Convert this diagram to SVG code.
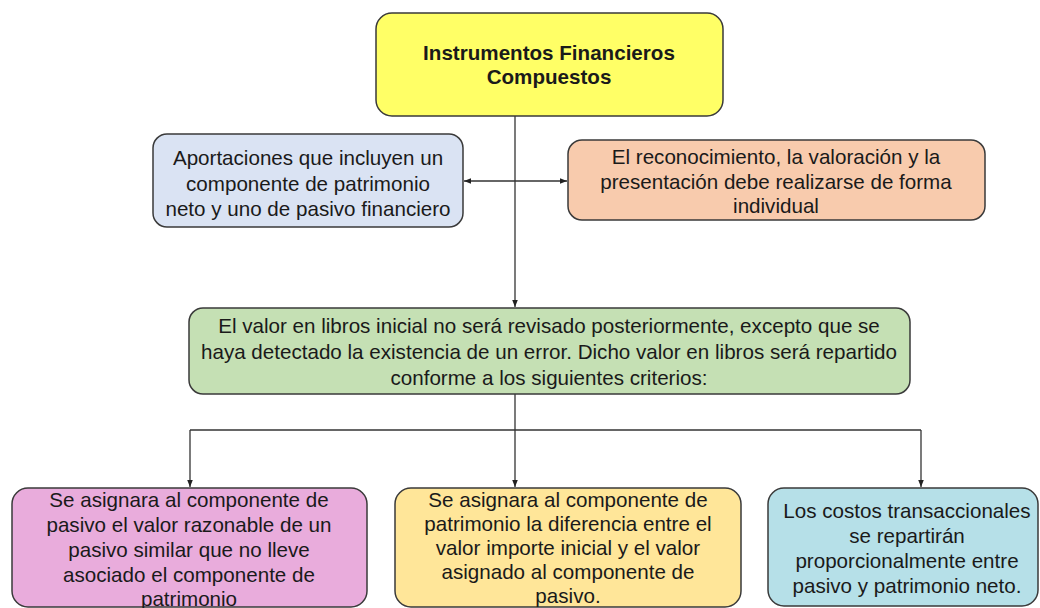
<svg xmlns="http://www.w3.org/2000/svg" width="1040" height="608" viewBox="0 0 1040 608">
<defs>
<marker id="ah" viewBox="0 0 10 10" refX="10" refY="5" markerWidth="7" markerHeight="7" orient="auto-start-reverse" markerUnits="userSpaceOnUse">
<path d="M0,1 L10,5 L0,9 z" fill="#222"/>
</marker>
<style>
.box{stroke:#3a3a3a;stroke-width:1.5}
.t{font-family:"Liberation Sans",Arial,sans-serif;font-size:20.6px;fill:#1a1a1a;text-anchor:middle}
.b{font-weight:bold}
.c{fill:none;stroke:#333;stroke-width:1.3}
</style>
</defs>
<rect width="1040" height="608" fill="#ffffff"/>
<g id="connectors">
<path class="c" d="M515,116 V307" marker-end="url(#ah)"/>
<path class="c" d="M464,181 H567" marker-start="url(#ah)" marker-end="url(#ah)"/>
<path class="c" d="M515,394 V487" marker-end="url(#ah)"/>
<path class="c" d="M190,430 H921"/>
<path class="c" d="M190,430 V487" marker-end="url(#ah)"/>
<path class="c" d="M921,430 V487" marker-end="url(#ah)"/>
</g>
<g id="n-title">
<rect class="box" x="376" y="13" width="347" height="103" rx="16" fill="#ffff66"/>
<text class="t b" x="549" y="60">Instrumentos Financieros</text>
<text class="t b" x="549" y="84">Compuestos</text>
</g>
<g id="n-aportaciones">
<rect class="box" x="153" y="134" width="310" height="93" rx="14" fill="#dae3f3"/>
<text class="t" x="308" y="165">Aportaciones que incluyen un</text>
<text class="t" x="308" y="190.5">componente de patrimonio</text>
<text class="t" x="308" y="216">neto y uno de pasivo financiero</text>
</g>
<g id="n-reconocimiento">
<rect class="box" x="568" y="140" width="417" height="80" rx="14" fill="#f8cbad"/>
<text class="t" x="776" y="164">El reconocimiento, la valoración y la</text>
<text class="t" x="776" y="189">presentación debe realizarse de forma</text>
<text class="t" x="776" y="213">individual</text>
</g>
<g id="n-valor">
<rect class="box" x="189" y="308" width="721" height="86" rx="14" fill="#c5e0b4"/>
<text class="t" x="549" y="333">El valor en libros inicial no será revisado posteriormente, excepto que se</text>
<text class="t" x="549" y="359">haya detectado la existencia de un error. Dicho valor en libros será repartido</text>
<text class="t" x="549" y="385">conforme a los siguientes criterios:</text>
</g>
<g id="n-pasivo">
<rect class="box" x="12" y="488" width="355" height="119" rx="16" fill="#e9acdc"/>
<text class="t" x="189" y="507">Se asignara al componente de</text>
<text class="t" x="189" y="532">pasivo el valor razonable de un</text>
<text class="t" x="189" y="557">pasivo similar que no lleve</text>
<text class="t" x="189" y="582">asociado el componente de</text>
<text class="t" x="189" y="606">patrimonio</text>
</g>
<g id="n-patrimonio">
<rect class="box" x="395" y="488" width="346" height="119" rx="16" fill="#ffe699"/>
<text class="t" x="568" y="507">Se asignara al componente de</text>
<text class="t" x="568" y="531">patrimonio la diferencia entre el</text>
<text class="t" x="568" y="555">valor importe inicial y el valor</text>
<text class="t" x="568" y="579">asignado al componente de</text>
<text class="t" x="568" y="603">pasivo.</text>
</g>
<g id="n-costos">
<rect class="box" x="768" y="488" width="270" height="118" rx="16" fill="#b6e0e8"/>
<text class="t" x="907" y="518">Los costos transaccionales</text>
<text class="t" x="907" y="543">se repartirán</text>
<text class="t" x="907" y="568">proporcionalmente entre</text>
<text class="t" x="907" y="593">pasivo y patrimonio neto.</text>
</g>
</svg>
